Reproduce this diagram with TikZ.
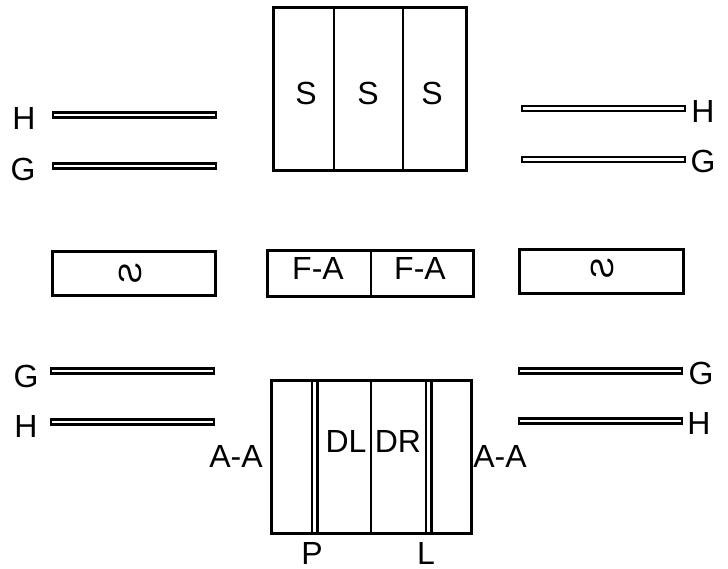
\documentclass[tikz,border=0pt]{standalone}
\usepackage{fontspec}
\setmainfont{Liberation Sans}
\usepackage{graphicx}
\begin{document}
\begin{tikzpicture}[x=1pt,y=-1pt,
  box/.style={draw=black,line width=3pt,fill=white},
  bar/.style={draw=black,line width=2.5pt,fill=white},
  lbl/.style={inner sep=0pt,text height=23pt,text depth=0pt,font=\fontsize{32}{38}\selectfont},
  divl/.style={draw=black,line width=2.8pt}]
\useasboundingbox (0,0) rectangle (728,569);
% top box
\draw[box] (273,8) rectangle (466,171);
\draw[divl] (334,8) -- (334,171);
\draw[divl] (403,8) -- (403,171);
\node[lbl] (s1) at (306,93) {S};
\node[lbl] (s2) at (368,93) {S};
\node[lbl] (s3) at (432,93) {S};
% top left bars
\draw[bar] (53,112.5) rectangle (216,117.5);
\draw[bar] (53,163.5) rectangle (216,168.5);
\node[lbl] (hl1) at (24,118) {H};
\node[lbl] (gl1) at (23,169) {G};
% top right bars
\draw[bar] (522,106) rectangle (685,111);
\draw[bar] (522,157) rectangle (685,162);
\node[lbl] (hr1) at (703,111) {H};
\node[lbl] (gr1) at (703,161) {G};
% middle row
\draw[box] (52,252) rectangle (215,296);
\node[lbl,rotate=90] (sl) at (130,273) {\reflectbox{S}};
\draw[box] (519,250) rectangle (683,294);
\node[lbl,rotate=90] (sr) at (602,268) {\reflectbox{S}};
\draw[box] (267,251) rectangle (473,297);
\draw[divl] (371,251) -- (371,297);
\node[lbl] (fa1) at (318,268) {F-A};
\node[lbl] (fa2) at (420,268) {F-A};
% bottom left bars
\draw[bar] (51,368.5) rectangle (214,373.5);
\draw[bar] (51,419.5) rectangle (214,424.5);
\node[lbl] (gl2) at (26,376) {G};
\node[lbl] (hl2) at (26,426) {H};
% bottom right bars
\draw[bar] (519,368.5) rectangle (682,373.5);
\draw[bar] (519,418.5) rectangle (682,423.5);
\node[lbl] (gr2) at (701,373) {G};
\node[lbl] (hr2) at (699,423) {H};
% bottom box
\draw[box] (271,380) rectangle (471,533);
\draw[divl] (312,380) -- (312,533);
\draw[divl] (317.5,380) -- (317.5,533);
\draw[divl] (371,380) -- (371,533);
\draw[divl] (426,380) -- (426,533);
\draw[divl] (431.5,380) -- (431.5,533);
\node[lbl] (dl) at (346,441) {DL};
\node[lbl] (dr) at (398,441) {DR};
\node[lbl] (aal) at (236,456) {A-A};
\node[lbl] (aar) at (500,456) {A-A};
\node[lbl] (p) at (312,553) {P};
\node[lbl] (l) at (426,553) {L};
\end{tikzpicture}
\end{document}
